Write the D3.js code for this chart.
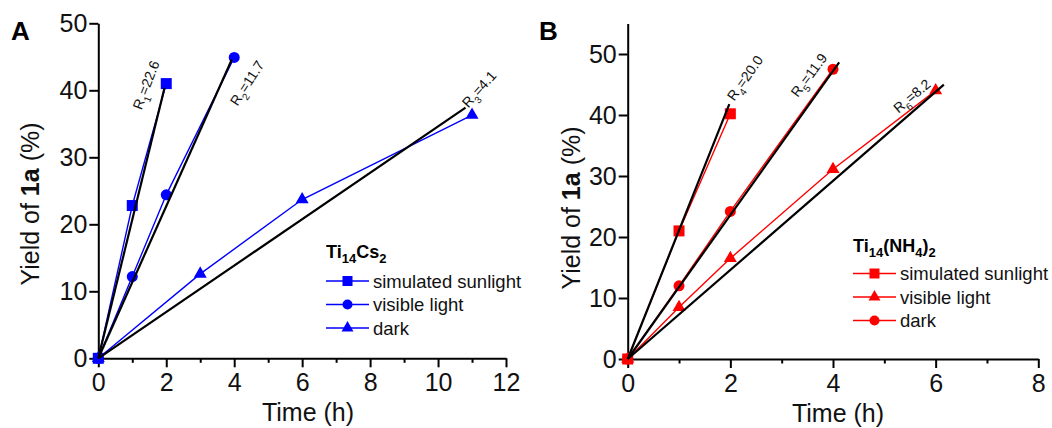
<!DOCTYPE html>
<html>
<head>
<meta charset="utf-8">
<script src="https://cdn.jsdelivr.net/npm/d3@7"></script>
<style>
  body { margin: 0; background: #fff; }
  svg { display: block; font-family: "Liberation Sans", Arial, sans-serif; }
</style>
</head>
<body>
<svg id="chart" width="1052" height="428"></svg>
<script>
/* DATA */

// panel A, Ti14Cs2
const seriesA = ["simulated sunlight", "visible light", "dark"];
const timeA_sun = [0, 1, 2];
const yieldA_sun = [0, 22.8, 41.0];
const timeA_vis = [0, 1, 2, 4];
const yieldA_vis = [0, 12.2, 24.4, 44.9];
const timeA_dark = [0, 3, 6, 11];
const yieldA_dark = [0, 12.6, 23.7, 36.3];
const fitA_slope = [20.7, 11.35, 3.46];
const fitA_end = [1.95, 3.93, 10.81];
const fitA_rate = ["22.6", "11.7", "4.1"];

// panel B, Ti14(NH4)2
const seriesB = ["simulated sunlight", "visible light", "dark"];
const timeB_sun = [0, 1, 2];
const yieldB_sun = [0, 21.0, 40.2];
const timeB_vis = [0, 1, 2, 4, 6];
const yieldB_vis = [0, 8.5, 16.5, 31.1, 44.0];
const timeB_dark = [0, 1, 2, 4];
const yieldB_dark = [0, 12.0, 24.2, 47.5];
const fitB_slope = [21.1, 11.8, 7.3];
const fitB_end = [1.98, 4.12, 6.16];
const fitB_rate = ["20.0", "11.9", "8.2"];

const xTicksA = [0, 2, 4, 6, 8, 10, 12];
const xMinorA = [1, 3, 5, 7, 9, 11];
const xTicksB = [0, 2, 4, 6, 8];
const xMinorB = [1, 3, 5, 7];
const yTicks = [0, 10, 20, 30, 40, 50];

/* DRAWING */

const svg = d3.select("#chart");

function zip(xs, ys) { return xs.map((x, i) => [x, ys[i]]); }

function symbolFor(shape) {
  return shape === "square" ? d3.symbolSquare
       : shape === "circle" ? d3.symbolCircle : d3.symbolTriangle;
}
// marker area for a given "width"
function markerArea(shape, w) {
  if (shape === "square") return w * w;
  if (shape === "circle") return Math.PI * (w / 2) * (w / 2);
  return w * w * Math.sqrt(3) / 4;
}

function addSubText(sel, parts, subSize) {
  // parts: [text, isSub]
  let prevSub = false;
  parts.forEach(([t, sub]) => {
    const ts = sel.append("tspan").text(t);
    if (sub && !prevSub) ts.attr("dy", 5).style("font-size", subSize + "px");
    else if (sub) ts.style("font-size", subSize + "px");
    else if (prevSub) ts.attr("dy", -5);
    prevSub = sub;
  });
}

function drawPanel(p) {
  const x = d3.scaleLinear().domain(p.xDomain).range(p.xRange);
  const y = d3.scaleLinear().domain(p.yDomain).range(p.yRange);
  const g = svg.append("g");

  // axes
  const gx = g.append("g").attr("transform", `translate(0,${y(0)})`)
    .call(d3.axisBottom(x).tickValues(p.xTicks).tickSize(9).tickSizeOuter(0).tickPadding(6));
  g.append("g").attr("transform", `translate(0,${y(0)})`)
    .call(d3.axisBottom(x).tickValues(p.xMinor).tickSize(4.5).tickFormat(""))
    .call(a => a.select(".domain").remove())
    .selectAll("line").attr("stroke-width", 2);
  const gy = g.append("g").attr("transform", `translate(${x(0)},0)`)
    .call(d3.axisLeft(y).tickValues(yTicks).tickSize(9).tickSizeOuter(0).tickPadding(2));
  [gx, gy].forEach(a => {
    a.select(".domain").attr("stroke-width", 2);
    a.selectAll(".tick line").attr("stroke-width", 2);
    a.selectAll("text").style("font-size", "25px").attr("fill", "#111");
  });

  // series lines + markers
  const line = d3.line().x(d => x(d[0])).y(d => y(d[1]));
  p.series.forEach(s => {
    g.append("path").datum(s.pts).attr("d", line)
      .attr("fill", "none").attr("stroke", p.color).attr("stroke-width", 1.4);
  });
  p.series.forEach(s => {
    g.selectAll(null).data(s.pts).enter().append("path")
      .attr("transform", d => `translate(${x(d[0])},${y(d[1])})`)
      .attr("d", d3.symbol(symbolFor(s.shape), markerArea(s.shape, s.shape === "triangle" ? 13 : 11)))
      .attr("fill", p.color);
  });

  // fit lines
  p.fits.forEach(f => {
    g.append("path").datum([[0, 0], [f.end, f.slope * f.end]]).attr("d", line)
      .attr("fill", "none").attr("stroke", "#000").attr("stroke-width", 2.2);
  });

  // rate labels
  p.fits.forEach((f, i) => {
    const lb = p.rateLabels[i];
    const t = g.append("text")
      .attr("transform", `translate(${lb.cx},${lb.cy}) rotate(${lb.angle})`)
      .attr("text-anchor", "middle").attr("dy", "0.35em")
      .style("font-size", "14px").attr("fill", "#111");
    addSubText(t, [["R", false], [String(f.n), true], ["=" + f.rate, false]], 10);
  });

  // axis titles
  g.append("text").attr("x", p.xTitle[0]).attr("y", p.xTitle[1])
    .attr("text-anchor", "middle").style("font-size", "25px").attr("fill", "#111")
    .text("Time (h)");
  const yt = g.append("text")
    .attr("transform", `translate(${p.yTitle[0]},${p.yTitle[1]}) rotate(-90)`)
    .attr("text-anchor", "middle").style("font-size", "25px").attr("fill", "#111");
  yt.append("tspan").text("Yield of ");
  yt.append("tspan").style("font-weight", "bold").text("1a");
  yt.append("tspan").text(" (%)");

  // panel letter
  g.append("text").attr("x", p.letterPos[0]).attr("y", p.letterPos[1])
    .style("font-size", "26px").style("font-weight", "bold").text(p.letter);

  // legend
  const lg = g.append("g");
  const title = lg.append("text").attr("x", p.legend.x).attr("y", p.legend.titleY)
    .style("font-size", "18px").style("font-weight", "bold");
  addSubText(title, p.legend.title, 13);
  p.legend.order.forEach((s, i) => {
    const ry = p.legend.rows[i];
    lg.append("line").attr("x1", p.legend.x).attr("x2", p.legend.x + 43)
      .attr("y1", ry).attr("y2", ry).attr("stroke", p.color).attr("stroke-width", 1.4);
    lg.append("path").attr("transform", `translate(${p.legend.x + 21.5},${ry})`)
      .attr("d", d3.symbol(symbolFor(s.shape), markerArea(s.shape, s.shape === "triangle" ? 12 : 10)))
      .attr("fill", p.color);
    lg.append("text").attr("x", p.legend.x + 47).attr("y", ry).attr("dy", "0.36em")
      .style("font-size", "18.5px").attr("fill", "#111").text(s.name);
  });
}

const serA = [
  { name: seriesA[0], shape: "square", pts: zip(timeA_sun, yieldA_sun) },
  { name: seriesA[1], shape: "circle", pts: zip(timeA_vis, yieldA_vis) },
  { name: seriesA[2], shape: "triangle", pts: zip(timeA_dark, yieldA_dark) }
];
const serB = [
  { name: seriesB[0], shape: "square", pts: zip(timeB_sun, yieldB_sun) },
  { name: seriesB[1], shape: "triangle", pts: zip(timeB_vis, yieldB_vis) },
  { name: seriesB[2], shape: "circle", pts: zip(timeB_dark, yieldB_dark) }
];

drawPanel({
  letter: "A", letterPos: [11, 40], color: "#0000ff",
  xDomain: [0, 12], xRange: [98.3, 506], yDomain: [0, 50], yRange: [358.3, 23.3],
  xTicks: xTicksA, xMinor: xMinorA,
  series: serA,
  fits: fitA_slope.map((s, i) => ({ n: i + 1, slope: s, end: fitA_end[i], rate: fitA_rate[i] })),
  rateLabels: [
    { cx: 146, cy: 85, angle: -69 },
    { cx: 247, cy: 83, angle: -57 },
    { cx: 479, cy: 89, angle: -48 }
  ],
  xTitle: [308, 421], yTitle: [39, 204],
  legend: { x: 326, titleY: 258, rows: [281, 304.5, 328],
            title: [["Ti", false], ["14", true], ["Cs", false], ["2", true]], order: serA }
});

drawPanel({
  letter: "B", letterPos: [539, 40], color: "#ff0000",
  xDomain: [0, 8], xRange: [627.7, 1038.3], yDomain: [0, 55], yRange: [359, 23.5],
  xTicks: xTicksB, xMinor: xMinorB,
  series: serB,
  fits: fitB_slope.map((s, i) => ({ n: i + 4, slope: s, end: fitB_end[i], rate: fitB_rate[i] })),
  rateLabels: [
    { cx: 745, cy: 78, angle: -55 },
    { cx: 809, cy: 75, angle: -53 },
    { cx: 912, cy: 96, angle: -40 }
  ],
  xTitle: [838, 422], yTitle: [580, 208],
  legend: { x: 853, titleY: 252, rows: [273.5, 297, 320.5],
            title: [["Ti", false], ["14", true], ["(NH", false], ["4", true], [")", false], ["2", true]],
            order: serB }
});
</script>
</body>
</html>
